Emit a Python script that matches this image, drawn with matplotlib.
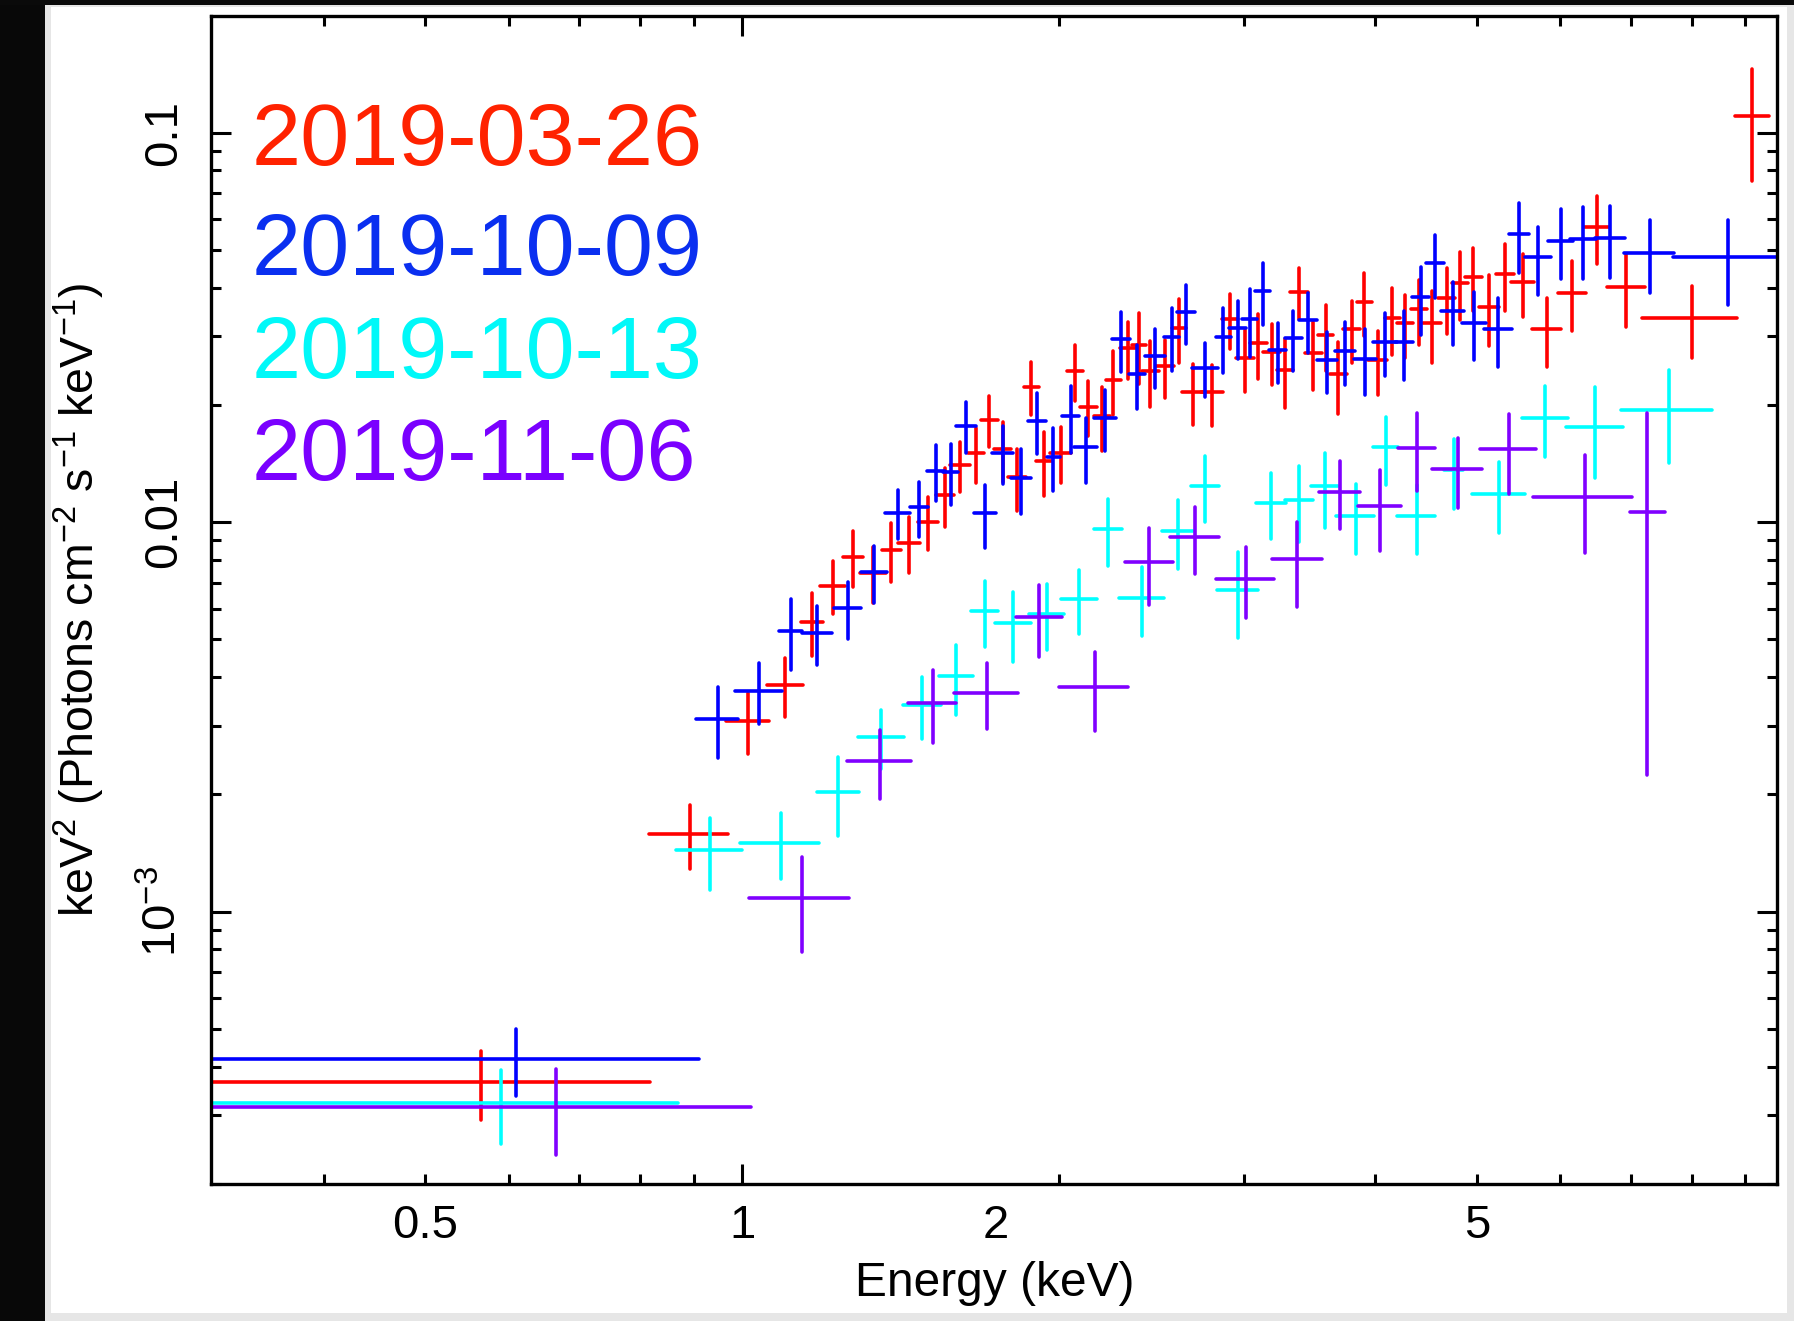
import numpy as np
import matplotlib
matplotlib.use('Agg')
import matplotlib.pyplot as plt
from matplotlib.ticker import FixedLocator, FuncFormatter
from matplotlib.patches import Rectangle
from matplotlib.transforms import ScaledTranslation

plt.rcParams['font.family'] = ['Liberation Sans', 'DejaVu Sans']
plt.rcParams['mathtext.fontset'] = 'custom'
plt.rcParams['mathtext.rm'] = 'Liberation Sans'
plt.rcParams['mathtext.it'] = 'Liberation Sans:italic'
plt.rcParams['mathtext.bf'] = 'Liberation Sans:bold'

# ---------------- data (energy keV, half bin width, keV^2 flux, error) ----------------
red_E = [0.565, 0.893, 1.013, 1.099, 1.166, 1.220, 1.276, 1.332, 1.387, 1.443, 1.503, 1.560,
         1.612, 1.670, 1.719, 1.770, 1.826, 1.884, 1.938, 2.009, 2.073, 2.135, 2.200, 2.255,
         2.327, 2.386, 2.446, 2.525, 2.605, 2.683, 2.801, 2.911, 3.009, 3.098, 3.190, 3.284,
         3.386, 3.494, 3.590, 3.691, 3.801, 3.907, 4.023, 4.154, 4.271, 4.404, 4.534, 4.679,
         4.818, 4.960, 5.133, 5.316, 5.526, 5.824, 6.161, 6.501, 6.937, 8.004, 9.13]
red_dE = [0.253, 0.0773, 0.048, 0.0434, 0.0283, 0.0343, 0.028, 0.0376, 0.0292, 0.0347, 0.033, 0.0297,
          0.034, 0.0288, 0.0313, 0.0324, 0.0354, 0.031, 0.0335, 0.045, 0.035, 0.0406, 0.0364, 0.0368,
          0.0402, 0.0377, 0.0444, 0.0507, 0.0408, 0.0626, 0.0685, 0.053, 0.057, 0.0567, 0.0584, 0.0596,
          0.068, 0.0639, 0.059, 0.0675, 0.0695, 0.0642, 0.081, 0.0683, 0.0777, 0.080, 0.0914, 0.0855,
          0.0876, 0.0906, 0.1108, 0.1005, 0.1413, 0.1807, 0.1918, 0.178, 0.292, 0.825, 0.34]
red_F = [3.648e-4, 1.583e-3, 3.094e-3, 3.821e-3, 5.554e-3, 6.869e-3, 8.139e-3, 7.421e-3, 8.482e-3,
         8.857e-3, 0.01003, 0.01175, 0.01402, 0.01503, 0.01830, 0.01538, 0.01304, 0.02228, 0.01436,
         0.01508, 0.02444, 0.01980, 0.01874, 0.02318, 0.02795, 0.02856, 0.02444, 0.02513, 0.03152,
         0.02163, 0.02155, 0.03318, 0.02635, 0.02879, 0.02740, 0.02459, 0.03907, 0.02724, 0.03024,
         0.02402, 0.03134, 0.03682, 0.02609, 0.03338, 0.03241, 0.03520, 0.03241, 0.03770, 0.04120,
         0.04269, 0.03575, 0.04337, 0.04130, 0.03134, 0.03884, 0.05737, 0.04024, 0.03338, 0.1104]
red_dF = [7.30e-5, 2.98e-4, 5.52e-4, 6.55e-4, 1.018e-3, 1.066e-3, 1.329e-3, 1.227e-3, 1.454e-3,
          1.430e-3, 1.557e-3, 2.002e-3, 2.038e-3, 2.454e-3, 2.747e-3, 2.715e-3, 2.364e-3, 3.458e-3,
          2.689e-3, 2.481e-3, 3.991e-3, 3.191e-3, 3.532e-3, 4.292e-3, 4.699e-3, 5.985e-3, 4.673e-3,
          4.232e-3, 5.942e-3, 3.901e-3, 3.843e-3, 5.319e-3, 4.777e-3, 5.453e-3, 4.885e-3, 4.976e-3,
          5.830e-3, 5.452e-3, 5.846e-3, 5.005e-3, 5.680e-3, 6.753e-3, 4.855e-3, 6.523e-3, 5.943e-3,
          6.699e-3, 6.753e-3, 7.209e-3, 8.162e-3, 7.905e-3, 7.342e-3, 8.515e-3, 7.611e-3, 6.312e-3,
          7.894e-3, 0.01126, 8.506e-3, 6.956e-3, 0.0353]

blue_E = [0.610, 0.948, 1.038, 1.113, 1.179, 1.260, 1.335, 1.407, 1.473, 1.530, 1.580, 1.633,
          1.702, 1.770, 1.842, 1.907, 1.978, 2.054, 2.123, 2.215, 2.293, 2.375, 2.471, 2.563,
          2.644, 2.756, 2.869, 2.961, 3.042, 3.128, 3.232, 3.344, 3.456, 3.598, 3.745, 3.913,
          4.088, 4.262, 4.421, 4.561, 4.741, 4.968, 5.239, 5.485, 5.718, 6.006, 6.311, 6.692,
          7.303, 8.66]
blue_dE = [0.300, 0.0432, 0.0527, 0.0285, 0.0397, 0.0369, 0.0376, 0.0386, 0.0296, 0.0309, 0.026, 0.0358,
           0.0405, 0.040, 0.0417, 0.0377, 0.0283, 0.0389, 0.052, 0.0512, 0.0434, 0.0436, 0.054, 0.0421,
           0.0499, 0.0772, 0.047, 0.0543, 0.050, 0.0513, 0.0593, 0.0613, 0.0694, 0.0785, 0.0794, 0.0974,
           0.1047, 0.0859, 0.0839, 0.0914, 0.1173, 0.1321, 0.1627, 0.116, 0.1612, 0.1688, 0.1808, 0.2238,
           0.3993, 0.985]
blue_F = [4.179e-4, 3.130e-3, 3.694e-3, 5.257e-3, 5.195e-3, 6.011e-3, 7.451e-3, 0.01058, 0.01092,
          0.01357, 0.01345, 0.01769, 0.01054, 0.01508, 0.01296, 0.01822, 0.01473, 0.01874, 0.01557,
          0.01855, 0.02954, 0.02402, 0.02679, 0.02997, 0.03459, 0.02484, 0.02983, 0.03158, 0.03318,
          0.03923, 0.02767, 0.02966, 0.03305, 0.02609, 0.02756, 0.02624, 0.02907, 0.02902, 0.03779,
          0.04621, 0.03491, 0.03252, 0.03134, 0.05485, 0.04787, 0.05281, 0.05335, 0.05357, 0.04919,
          0.04787]
blue_dF = [8.25e-5, 6.47e-4, 6.59e-4, 1.095e-3, 9.00e-4, 9.94e-4, 1.253e-3, 1.547e-3, 1.783e-3,
           2.245e-3, 2.399e-3, 2.656e-3, 1.952e-3, 2.553e-3, 2.479e-3, 3.281e-3, 2.701e-3, 3.661e-3,
           2.935e-3, 3.346e-3, 5.177e-3, 4.519e-3, 4.639e-3, 5.551e-3, 5.990e-3, 3.937e-3, 5.677e-3,
           5.317e-3, 6.584e-3, 7.193e-3, 4.851e-3, 5.145e-3, 5.819e-3, 4.651e-3, 5.104e-3, 5.073e-3,
           5.330e-3, 5.899e-3, 7.488e-3, 8.473e-3, 6.403e-3, 6.444e-3, 6.273e-3, 0.01117, 9.485e-3,
           0.01073, 0.01128, 0.01116, 0.01045, 0.01166]

cyan_E = [0.590, 0.933, 1.089, 1.235, 1.357, 1.484, 1.599, 1.701, 1.812, 1.949, 2.093, 2.228,
          2.402, 2.597, 2.758, 2.962, 3.188, 3.386, 3.582, 3.834, 4.094, 4.382, 4.755, 5.251,
          5.809, 6.479, 7.613]
cyan_dE = [0.280, 0.0672, 0.0934, 0.0575, 0.0683, 0.0621, 0.059, 0.0506, 0.0706, 0.0743, 0.0818, 0.0678,
           0.1196, 0.089, 0.084, 0.133, 0.1036, 0.1034, 0.1046, 0.1585, 0.1115, 0.1837, 0.0993, 0.3004,
           0.289, 0.4075, 0.756]
cyan_F = [3.222e-4, 1.440e-3, 1.501e-3, 2.029e-3, 2.804e-3, 3.387e-3, 4.017e-3, 5.926e-3, 5.501e-3,
          5.811e-3, 6.361e-3, 9.589e-3, 6.399e-3, 9.493e-3, 0.01239, 6.697e-3, 0.01122, 0.01142,
          0.01236, 0.01039, 0.01557, 0.01039, 0.01361, 0.01182, 0.01855, 0.01759, 0.01941]
cyan_dF = [6.94e-5, 3.00e-4, 2.86e-4, 4.64e-4, 4.86e-4, 6.14e-4, 8.25e-4, 1.133e-3, 1.113e-3,
           1.123e-3, 1.186e-3, 1.854e-3, 1.289e-3, 1.912e-3, 2.394e-3, 1.668e-3, 2.169e-3, 2.518e-3,
           2.704e-3, 2.115e-3, 3.084e-3, 2.103e-3, 2.771e-3, 2.441e-3, 3.826e-3, 4.610e-3, 5.225e-3]

purple_E = [0.665, 1.140, 1.352, 1.518, 1.710, 1.918, 2.164, 2.440, 2.698, 3.016, 3.375, 3.707,
            4.042, 4.382, 4.793, 5.359, 6.337, 7.263]
purple_dE = [0.355, 0.1237, 0.0947, 0.0798, 0.1197, 0.0962, 0.163, 0.1288, 0.1455, 0.1895, 0.1848,
             0.1668, 0.1897, 0.1784, 0.2598, 0.3267, 0.681, 0.280]
purple_F = [3.158e-4, 1.086e-3, 2.437e-3, 3.440e-3, 3.644e-3, 5.699e-3, 3.776e-3, 7.916e-3, 9.146e-3,
            7.162e-3, 8.029e-3, 0.01198, 0.01101, 0.01555, 0.01367, 0.01539, 0.01159, 0.01064]
purple_dF = [7.92e-5, 2.98e-4, 4.90e-4, 7.24e-4, 7.05e-4, 1.205e-3, 8.67e-4, 1.769e-3, 1.796e-3,
             1.479e-3, 1.982e-3, 2.398e-3, 2.595e-3, 3.489e-3, 2.795e-3, 3.553e-3, 3.27e-3, 8.39e-3]

dates = ['2019-03-26', '2019-10-09', '2019-10-13', '2019-11-06']
colors = ['#ff0000', '#0000ff', '#00ffff', '#8000ff']
text_colors = ['#ff2200', '#0a2ff0', '#00f8f8', '#7a00ff']

x_major = [1]
x_minor = [0.4, 0.5, 0.6, 0.7, 0.8, 0.9, 2, 3, 4, 5, 6, 7, 8, 9]
x_labels = {1.0: '1', 0.5: '0.5', 2.0: '2', 5.0: '5'}
y_major = [1e-3, 1e-2, 0.1]
y_labels = {1e-3: r'10$^{-3}$', 1e-2: '0.01', 0.1: '0.1'}

# ---------------- figure ----------------
W, H = 1794, 1321
fig = plt.figure(figsize=(W / 100, H / 100), dpi=100, facecolor='#e6e6e6')
fig.patches.append(Rectangle((51 / W, 1 - 1313 / H), (1787 - 51) / W, (1313 - 7) / H,
                             transform=fig.transFigure, facecolor='white', edgecolor='none', zorder=-9))
fig.patches.append(Rectangle((0, 0), 45 / W, 1, transform=fig.transFigure,
                             facecolor='#080808', edgecolor='none', zorder=-8))
fig.patches.append(Rectangle((0, 1 - 5 / H), 1, 5 / H, transform=fig.transFigure,
                             facecolor='#0a0a0a', edgecolor='none', zorder=-8))

ax = fig.add_axes([211 / W, 1 - 1184.3 / H, (1777 - 211) / W, (1184.3 - 16.5) / H])
ax.set_xscale('log')
ax.set_yscale('log')
ax.set_xlim(0.3126, 9.645)
ax.set_ylim(1.9955e-4, 0.1988)

series = [(red_E, red_dE, red_F, red_dF), (blue_E, blue_dE, blue_F, blue_dF),
          (cyan_E, cyan_dE, cyan_F, cyan_dF), (purple_E, purple_dE, purple_F, purple_dF)]
for (E, dE, F, dF), c in zip(series, colors):
    cont = ax.errorbar(E, F, xerr=dE, yerr=dF, fmt='none', ecolor=c, elinewidth=2.6, capsize=0)
    for lc in cont[2]:
        lc.set_capstyle('round')

# ticks
ax.xaxis.set_major_locator(FixedLocator(x_major))
ax.xaxis.set_minor_locator(FixedLocator(x_minor))
ax.xaxis.set_major_formatter(FuncFormatter(lambda v, p: x_labels.get(round(v, 2), '')))
ax.xaxis.set_minor_formatter(FuncFormatter(lambda v, p: x_labels.get(round(v, 2), '')))
y_minor = [k * 10.0 ** n for n in range(-4, 0) for k in range(2, 10)]
ax.yaxis.set_major_locator(FixedLocator(y_major))
ax.yaxis.set_minor_locator(FixedLocator(y_minor))
ax.yaxis.set_major_formatter(FuncFormatter(
    lambda v, p: y_labels.get(min(y_labels, key=lambda k: abs(np.log10(k) - np.log10(v))), '')))
ax.yaxis.set_minor_formatter(FuncFormatter(lambda v, p: ''))

ax.tick_params(which='both', direction='in', top=True, right=True, width=2.2, color='black',
               labelsize=34)
ax.tick_params(which='major', length=14.4)
ax.tick_params(which='minor', length=7.2)
ax.tick_params(axis='x', which='both', pad=14)
ax.tick_params(axis='y', which='both', labelrotation=90, pad=18)
for lab in ax.get_yticklabels():
    lab.set_va('center')
for s in ax.spines.values():
    s.set_linewidth(2.4)

# the "2" label sits left of its tick in the original figure
minor_ticks = ax.xaxis.get_minor_ticks(len(x_minor))
t2 = minor_ticks[x_minor.index(2)]
t2.label1.set_transform(t2.label1.get_transform() + ScaledTranslation(-0.63, 0, fig.dpi_scale_trans))

# axis labels
fig.text(79 / W, 1 - 600.4 / H, r'keV$^{2}$ (Photons cm$^{-2}$ s$^{-1}$ keV$^{-1}$)',
         rotation=90, ha='center', va='center', fontsize=33.5)
fig.text(995 / W, 1 - 1296 / H, 'Energy (keV)', ha='center', va='baseline', fontsize=34.5)

# date labels
for d, tc, yb in zip(dates, text_colors, [165, 275, 378, 480]):
    fig.text(252 / W, 1 - yb / H, d, color=tc, fontsize=63.5, ha='left', va='baseline')

fig.savefig('out.png', dpi=100, facecolor=fig.get_facecolor())
